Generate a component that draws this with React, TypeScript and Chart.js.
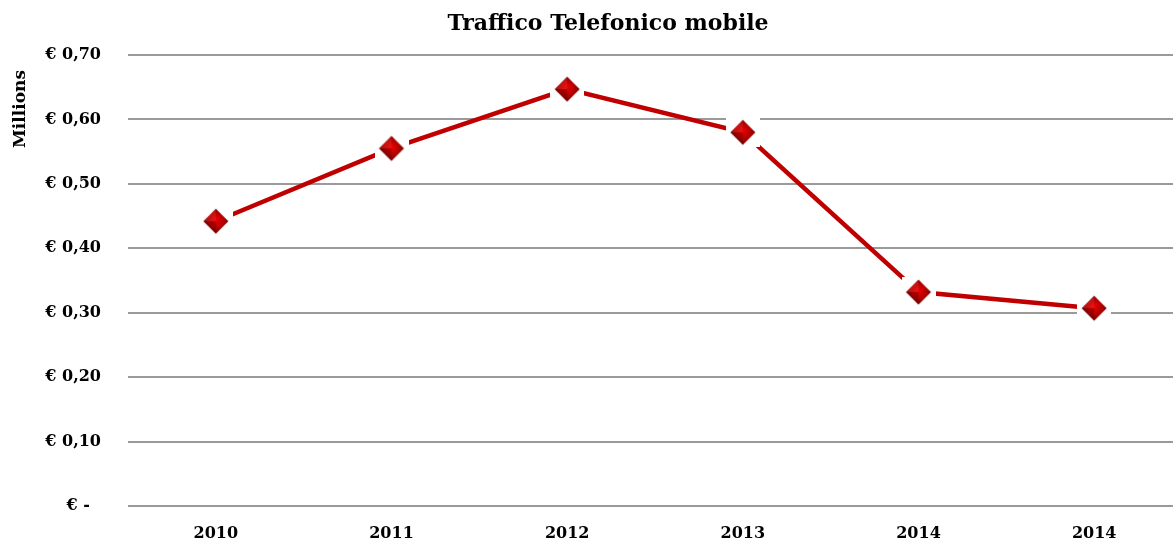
import React, { useEffect, useRef } from "react";
import { Chart, registerables } from "chart.js";

Chart.register(...registerables);

const categories = ["2010", "2011", "2012", "2013", "2014", "2014"];
const values = [0.442, 0.555, 0.647, 0.58, 0.332, 0.307];
const yTickLabels = ["€ -  ", "€ 0,10", "€ 0,20", "€ 0,30", "€ 0,40", "€ 0,50", "€ 0,60", "€ 0,70"];
const titleText = "Traffico Telefonico mobile";
const axisTitle = "Millions";

const FONT = "'DejaVu Serif', serif";

function makeMarker(): HTMLCanvasElement {
  const c = document.createElement("canvas");
  const w = 34;
  const h = 30;
  c.width = w;
  c.height = h;
  const ctx = c.getContext("2d")!;
  const mx = w / 2;
  const my = h / 2;
  ctx.fillStyle = "#ffffff";
  ctx.fillRect(0, 0, w, h);
  const r = 12.5;
  const diamond = () => {
    ctx.beginPath();
    ctx.moveTo(mx, my - r);
    ctx.lineTo(mx + r, my);
    ctx.lineTo(mx, my + r);
    ctx.lineTo(mx - r, my);
    ctx.closePath();
  };
  const g = ctx.createRadialGradient(mx, my - 2, 1, mx, my, r);
  g.addColorStop(0, "#e60000");
  g.addColorStop(0.6, "#b00000");
  g.addColorStop(1, "#6a0000");
  ctx.fillStyle = g;
  diamond();
  ctx.fill();
  ctx.globalAlpha = 0.18;
  ctx.fillStyle = "#ff6060";
  ctx.beginPath();
  ctx.moveTo(mx, my - r);
  ctx.lineTo(mx - r, my);
  ctx.lineTo(mx, my);
  ctx.closePath();
  ctx.fill();
  ctx.fillStyle = "#000000";
  ctx.beginPath();
  ctx.moveTo(mx, my + r);
  ctx.lineTo(mx - r, my);
  ctx.lineTo(mx, my);
  ctx.closePath();
  ctx.fill();
  ctx.globalAlpha = 1;
  return c;
}

export default function App() {
  const ref = useRef<HTMLCanvasElement | null>(null);

  useEffect(() => {
    if (!ref.current) return;
    const marker = makeMarker();
    const overlay = {
      id: "overlay",
      afterDraw(chart: any) {
        const ctx = chart.ctx;
        ctx.save();
        ctx.fillStyle = "#000";
        ctx.font = `bold 22px ${FONT}`;
        ctx.textAlign = "center";
        ctx.textBaseline = "middle";
        ctx.fillText(titleText, 608, 24);
        ctx.translate(21, 109);
        ctx.rotate(-Math.PI / 2);
        ctx.font = `bold 17px ${FONT}`;
        ctx.fillText(axisTitle, 0, 0);
        ctx.restore();
      },
    };
    const chart = new Chart(ref.current, {
      type: "line",
      data: {
        labels: categories,
        datasets: [
          {
            data: values,
            borderColor: "#c00000",
            borderWidth: 4.5,
            pointStyle: marker as any,
            pointRadius: 13,
            pointHoverRadius: 13,
            tension: 0,
          },
        ],
      },
      options: {
        responsive: false,
        animation: false,
        layout: { autoPadding: false, padding: { top: 55, left: 0, right: 0, bottom: 0 } },
        plugins: { legend: { display: false }, title: { display: false }, tooltip: { enabled: false } },
        scales: {
          x: {
            offset: true,
            grid: { display: false, drawTicks: false },
            border: { display: false },
            ticks: { color: "#000", font: { family: FONT, size: 16, weight: "bold" }, padding: 18 },
            afterFit: (s: any) => {
              s.height = 44;
            },
          },
          y: {
            min: 0,
            max: 0.7,
            grid: { color: "#9a9a9a", lineWidth: 2, drawTicks: false },
            border: { display: false },
            ticks: {
              stepSize: 0.1,
              color: "#000",
              padding: 27,
              font: { family: FONT, size: 16, weight: "bold" },
              callback: (_v: any, i: number) => yTickLabels[i],
            },
            afterFit: (s: any) => {
              s.width = 128;
            },
          },
        },
      },
      plugins: [overlay],
    });
    return () => chart.destroy();
  }, []);

  return (
    <div style={{ position: "fixed", left: 0, top: 0, width: 1173, height: 550, overflow: "hidden", background: "#fff" }}>
      <canvas ref={ref} width={1182} height={550} style={{ display: "block" }} />
    </div>
  );
}
